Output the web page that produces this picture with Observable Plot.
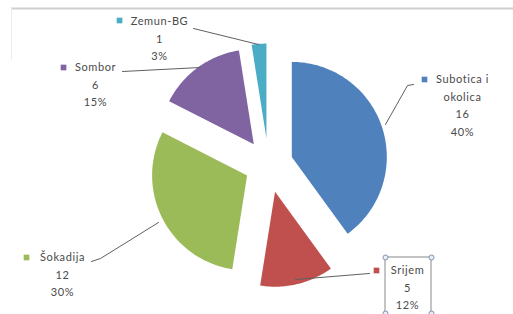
<!DOCTYPE html>
<html>
<head>
<meta charset="utf-8">
<script src="https://cdn.jsdelivr.net/npm/d3@7"></script>
<script src="https://cdn.jsdelivr.net/npm/@observablehq/plot@0.6"></script>
<style>
  html, body { margin: 0; padding: 0; background: #fff; overflow: hidden; }
  #chart svg { display: block; }
</style>
</head>
<body>
<div id="chart"></div>
<script>
// ---- data ----
const categories = ["Subotica i okolica", "Srijem", "Šokadija", "Sombor", "Zemun-BG"];
const labelLines = [["Subotica i", "okolica"], ["Srijem"], ["Šokadija"], ["Sombor"], ["Zemun-BG"]];
const counts = [16, 5, 12, 6, 1];
const percentLabels = ["40%", "12%", "30%", "15%", "3%"];
const colors = ["#4f81bd", "#c0504d", "#9bbb59", "#8064a2", "#4bacc6"];

// ---- layout (pixels) ----
const W = 513, H = 314;
const center = [268, 164];
const radius = 95;
const explode = [24.5, 28, 24, 25, 26];
const labelPos = [ // text centre x, first line y, marker x, marker y
  [462, 79, 424, 79],
  [407, 270, 376, 270],
  [62, 257, 26, 257],
  [95, 67, 63, 67],
  [159, 21, 119, 20]
];
const leaders = [
  [[413, 84], [407, 85], [385, 124]],
  [[369, 273], [295, 279]],
  [[91, 261], [100, 258], [158, 222]],
  [[122, 71], [200, 67]],
  [[193, 28], [258, 44]]
];

const pie = d3.pie().sort(null).value(d => d)(counts);
const polys = [];
pie.forEach((p, i) => {
  const mid = (p.startAngle + p.endAngle) / 2;
  const vx = center[0] + explode[i] * Math.sin(mid);
  const vy = center[1] - explode[i] * Math.cos(mid);
  polys.push({cat: categories[i], x: vx, y: vy});
  const n = Math.max(4, Math.ceil((p.endAngle - p.startAngle) / 0.02));
  for (let k = 0; k <= n; k++) {
    const a = p.startAngle + (p.endAngle - p.startAngle) * k / n;
    polys.push({cat: categories[i], x: vx + radius * Math.sin(a), y: vy - radius * Math.cos(a)});
  }
  polys.push({cat: categories[i], x: vx, y: vy});
});

const texts = [];
categories.forEach((c, i) => {
  const lines = [...labelLines[i], String(counts[i]), percentLabels[i]];
  lines.forEach((t, j) => texts.push({t, x: labelPos[i][0], y: labelPos[i][1] + j * 17.5}));
});
const markers = categories.map((c, i) => ({cat: c, x: labelPos[i][2], y: labelPos[i][3]}));
const leaderPts = [];
leaders.forEach((pts, i) => pts.forEach(p => leaderPts.push({cat: categories[i], x: p[0], y: p[1]})));

const chart = Plot.plot({
  width: W, height: H,
  margin: 0,
  x: {domain: [0, W], range: [0, W], axis: null},
  y: {domain: [0, H], range: [0, H], axis: null},
  color: {domain: categories, range: colors},
  style: {fontFamily: "Lato, 'Open Sans', sans-serif", background: "#fff"},
  marks: [
    Plot.ruleY([8], {x1: 11, x2: W, stroke: "#cfcfcf", strokeWidth: 2}),
    Plot.ruleX([11], {y1: 8, y2: 60, stroke: "#ececec", strokeWidth: 1}),
    Plot.line(polys, {x: "x", y: "y", z: "cat", fill: "cat", stroke: "none"}),
    Plot.line(leaderPts, {x: "x", y: "y", z: "cat", stroke: "#606060", strokeWidth: 1}),
    Plot.rect([0], {x1: 385, x2: 431, y1: 257, y2: 317, fill: "none", stroke: "#8a8a8a", strokeWidth: 1}),
    Plot.dot([[385, 257], [431, 257], [385, 313], [431, 313]], {x: d => d[0], y: d => d[1], r: 2.5, fill: "#e8eef5", stroke: "#7d93ad", strokeWidth: 1}),
    Plot.dot(markers, {x: "x", y: "y", fill: "cat", symbol: "square", r: 3.2, stroke: "none"}),
    Plot.text(texts, {x: "x", y: "y", text: "t", textAnchor: "middle", fill: "#4a4a4a", fontSize: 11})
  ]
});
chart.querySelectorAll("text").forEach(t => t.style.letterSpacing = "0.6px");
document.getElementById("chart").appendChild(chart);
</script>
</body>
</html>
